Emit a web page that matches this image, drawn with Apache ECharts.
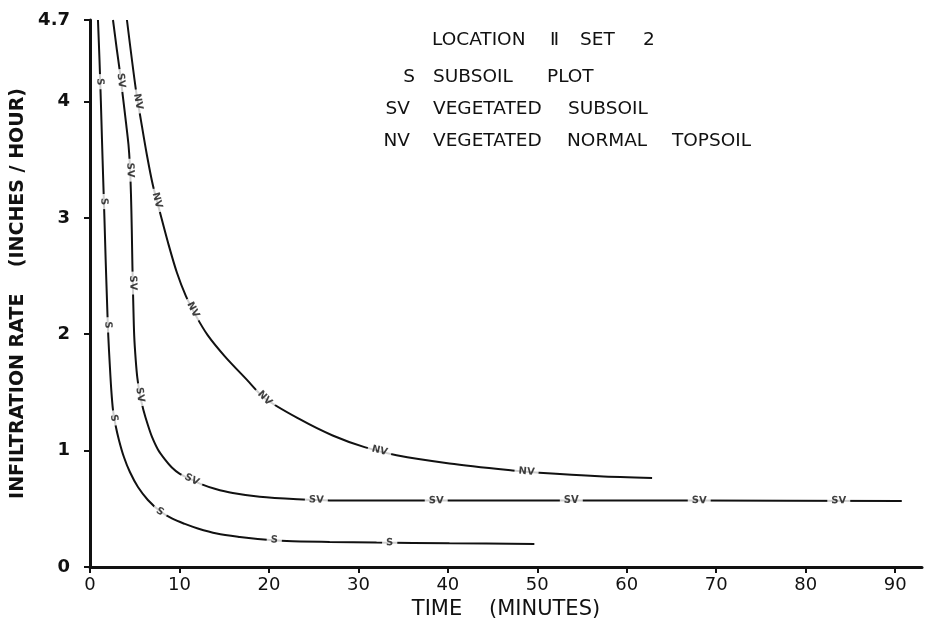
<!DOCTYPE html>
<html>
<head>
<meta charset="utf-8">
<script src="https://cdn.jsdelivr.net/npm/echarts@6/dist/echarts.min.js"></script>
<style>
html, body { margin: 0; padding: 0; background: #fff; }
#chart { width: 926px; height: 623px; }
</style>
</head>
<body>
<div id="chart"></div>
<script>
// curves: [minutes, inches/hour]
const subsoil = [[0.89, 4.7], [1.06, 4.36], [1.21, 4.01], [1.34, 3.67], [1.48, 3.32], [1.62, 2.98], [1.75, 2.64],
  [1.9, 2.29], [2.04, 1.99], [2.21, 1.74], [2.38, 1.52], [2.57, 1.35], [2.85, 1.22], [3.24, 1.09], [3.79, 0.945],
  [4.46, 0.816], [5.36, 0.687], [6.47, 0.576], [7.81, 0.481], [9.15, 0.417], [10.6, 0.37], [12.05, 0.331],
  [14.17, 0.288], [16.74, 0.258], [18.75, 0.241], [21.99, 0.223], [26.79, 0.215], [32.03, 0.21], [40.18, 0.204],
  [49.67, 0.198]]
const vegSubsoil = [[2.57, 4.7], [3.01, 4.44], [3.35, 4.25], [3.68, 4.04], [4.02, 3.82], [4.3, 3.63], [4.46, 3.45],
  [4.58, 3.2], [4.67, 2.9], [4.74, 2.59], [4.83, 2.29], [4.94, 1.99], [5.11, 1.78], [5.3, 1.62], [5.58, 1.48],
  [5.97, 1.35], [6.47, 1.22], [6.92, 1.12], [7.59, 1.01], [8.37, 0.925], [9.15, 0.855], [10.04, 0.8], [11.38, 0.75],
  [12.5, 0.71], [13.95, 0.672], [15.96, 0.635], [18.97, 0.603], [23.21, 0.582], [26.79, 0.572], [45.76, 0.571],
  [68.08, 0.571], [90.74, 0.567]]
const vegTopsoil = [[4.13, 4.7], [5.13, 4.1], [5.69, 3.84], [6.36, 3.54], [7.03, 3.28], [7.81, 3.05], [8.71, 2.79],
  [9.71, 2.53], [10.71, 2.33], [11.83, 2.16], [13.17, 1.99], [15.07, 1.81], [17.52, 1.61], [19.53, 1.45],
  [23.44, 1.27], [27.12, 1.13], [30.69, 1.03], [34.26, 0.96], [40.18, 0.89], [47.21, 0.83], [50.22, 0.81],
  [56.92, 0.78], [62.83, 0.765]]

// where the S / SV / NV marks sit on each curve
const subsoilMarks = [[1.12, 4.17], [1.56, 3.14], [2.0, 2.08], [2.68, 1.28], [7.81, 0.475], [20.6, 0.232], [33.5, 0.209]]
const vegSubsoilMarks = [[3.46, 4.18], [4.48, 3.41], [4.79, 2.44], [5.58, 1.48], [11.38, 0.75], [25.3, 0.576], [38.7, 0.571], [53.8, 0.571], [68.1, 0.571], [83.7, 0.569]]
const vegTopsoilMarks = [[5.36, 4.0], [7.48, 3.15], [11.5, 2.21], [19.53, 1.45], [32.37, 1.0], [48.8, 0.82]]

const xTicks = [0, 10, 20, 30, 40, 50, 60, 70, 80, 90]
const yTicks = [0, 1, 2, 3, 4, 4.7]

const chart = echarts.init(document.getElementById('chart'))

function lineSeries(data) {
  return {
    type: 'line',
    data: data,
    smooth: 0.3,
    showSymbol: false,
    symbol: 'none',
    lineStyle: { color: '#111', width: 2 },
    z: 2
  }
}

function markSeries(text, marks, angles) {
  return {
    type: 'scatter',
    symbolSize: 0,
    z: 5,
    data: marks.map((m, i) => ({ value: m, label: { rotate: angles ? angles[i] : 0 } })),
    label: {
      show: true,
      position: 'inside',
      formatter: text,
      fontFamily: 'DejaVu Sans',
      fontWeight: 'bold',
      fontSize: 10,
      color: '#111',
      backgroundColor: '#fff',
      padding: [1, 4]
    }
  }
}

// legend block, word by word as lettered on the sheet
const legendFont = '18.5px "DejaVu Sans"'
const legendLayout = [
  ['LOCATION', 432, 40, 'left'], ['Ⅱ', 550, 40, 'left'], ['SET', 580, 40, 'left'], ['2', 643, 40, 'left'],
  ['S', 415, 77, 'right'], ['SUBSOIL', 433, 77, 'left'], ['PLOT', 547, 77, 'left'],
  ['SV', 410, 109, 'right'], ['VEGETATED', 433, 109, 'left'], ['SUBSOIL', 568, 109, 'left'],
  ['NV', 410, 141, 'right'], ['VEGETATED', 433, 141, 'left'], ['NORMAL', 567, 141, 'left'], ['TOPSOIL', 672, 141, 'left']
]

const option = {
  animation: false,
  backgroundColor: '#fff',
  grid: { left: 90, right: 4, top: 20, bottom: 56, outerBoundsMode: 'none', containLabel: false },
  xAxis: {
    type: 'value',
    min: 0,
    max: 93,
    interval: 10,
    name: 'TIME    (MINUTES)',
    nameLocation: 'middle',
    nameGap: 28,
    nameTextStyle: { fontFamily: 'DejaVu Sans', fontSize: 21, color: '#111' },
    axisLine: { lineStyle: { color: '#111', width: 3 } },
    axisTick: { show: true, length: 6, lineStyle: { color: '#111', width: 2 }, customValues: xTicks },
    axisLabel: { customValues: xTicks, margin: 9, fontFamily: 'DejaVu Sans', fontSize: 18, color: '#111' },
    splitLine: { show: false }
  },
  yAxis: {
    type: 'value',
    min: 0,
    max: 4.7,
    interval: 1,
    name: 'INFILTRATION RATE    (INCHES / HOUR)',
    nameLocation: 'middle',
    nameGap: 61,
    nameTextStyle: { fontFamily: 'DejaVu Sans', fontWeight: 'bold', fontSize: 19, color: '#111' },
    axisLine: { show: true, lineStyle: { color: '#111', width: 3 } },
    axisTick: { show: true, length: 6, lineStyle: { color: '#111', width: 2 }, customValues: yTicks },
    axisLabel: { customValues: yTicks, margin: 20, fontFamily: 'DejaVu Sans', fontWeight: 'bold', fontSize: 18, color: '#111' },
    splitLine: { show: false }
  },
  graphic: legendLayout.map(w => ({
    type: 'text',
    x: w[1],
    y: w[2],
    style: { text: w[0], font: legendFont, fill: '#111', align: w[3], verticalAlign: 'middle' }
  })),
  series: [
    lineSeries(subsoil),
    lineSeries(vegSubsoil),
    lineSeries(vegTopsoil),
    markSeries('S', subsoilMarks),
    markSeries('SV', vegSubsoilMarks),
    markSeries('NV', vegTopsoilMarks)
  ]
}

chart.setOption(option)

// turn each mark along its curve
function anglesFor(curve, marks) {
  const pts = curve.map(p => chart.convertToPixel({ gridIndex: 0 }, p))
  return marks.map(m => {
    const q = chart.convertToPixel({ gridIndex: 0 }, m)
    let best = Infinity
    let ang = 0
    for (let i = 0; i < pts.length - 1; i++) {
      const a = pts[i]
      const b = pts[i + 1]
      const dx = b[0] - a[0]
      const dy = b[1] - a[1]
      const len2 = dx * dx + dy * dy || 1
      let t = ((q[0] - a[0]) * dx + (q[1] - a[1]) * dy) / len2
      t = Math.max(0, Math.min(1, t))
      const ex = a[0] + t * dx - q[0]
      const ey = a[1] + t * dy - q[1]
      const d = ex * ex + ey * ey
      if (d < best) {
        best = d
        ang = Math.atan2(dy, dx)
      }
    }
    return -ang * 180 / Math.PI
  })
}

chart.setOption({
  series: [
    {}, {}, {},
    markSeries('S', subsoilMarks, anglesFor(subsoil, subsoilMarks)),
    markSeries('SV', vegSubsoilMarks, anglesFor(vegSubsoil, vegSubsoilMarks)),
    markSeries('NV', vegTopsoilMarks, anglesFor(vegTopsoil, vegTopsoilMarks))
  ]
})
</script>
</body>
</html>
